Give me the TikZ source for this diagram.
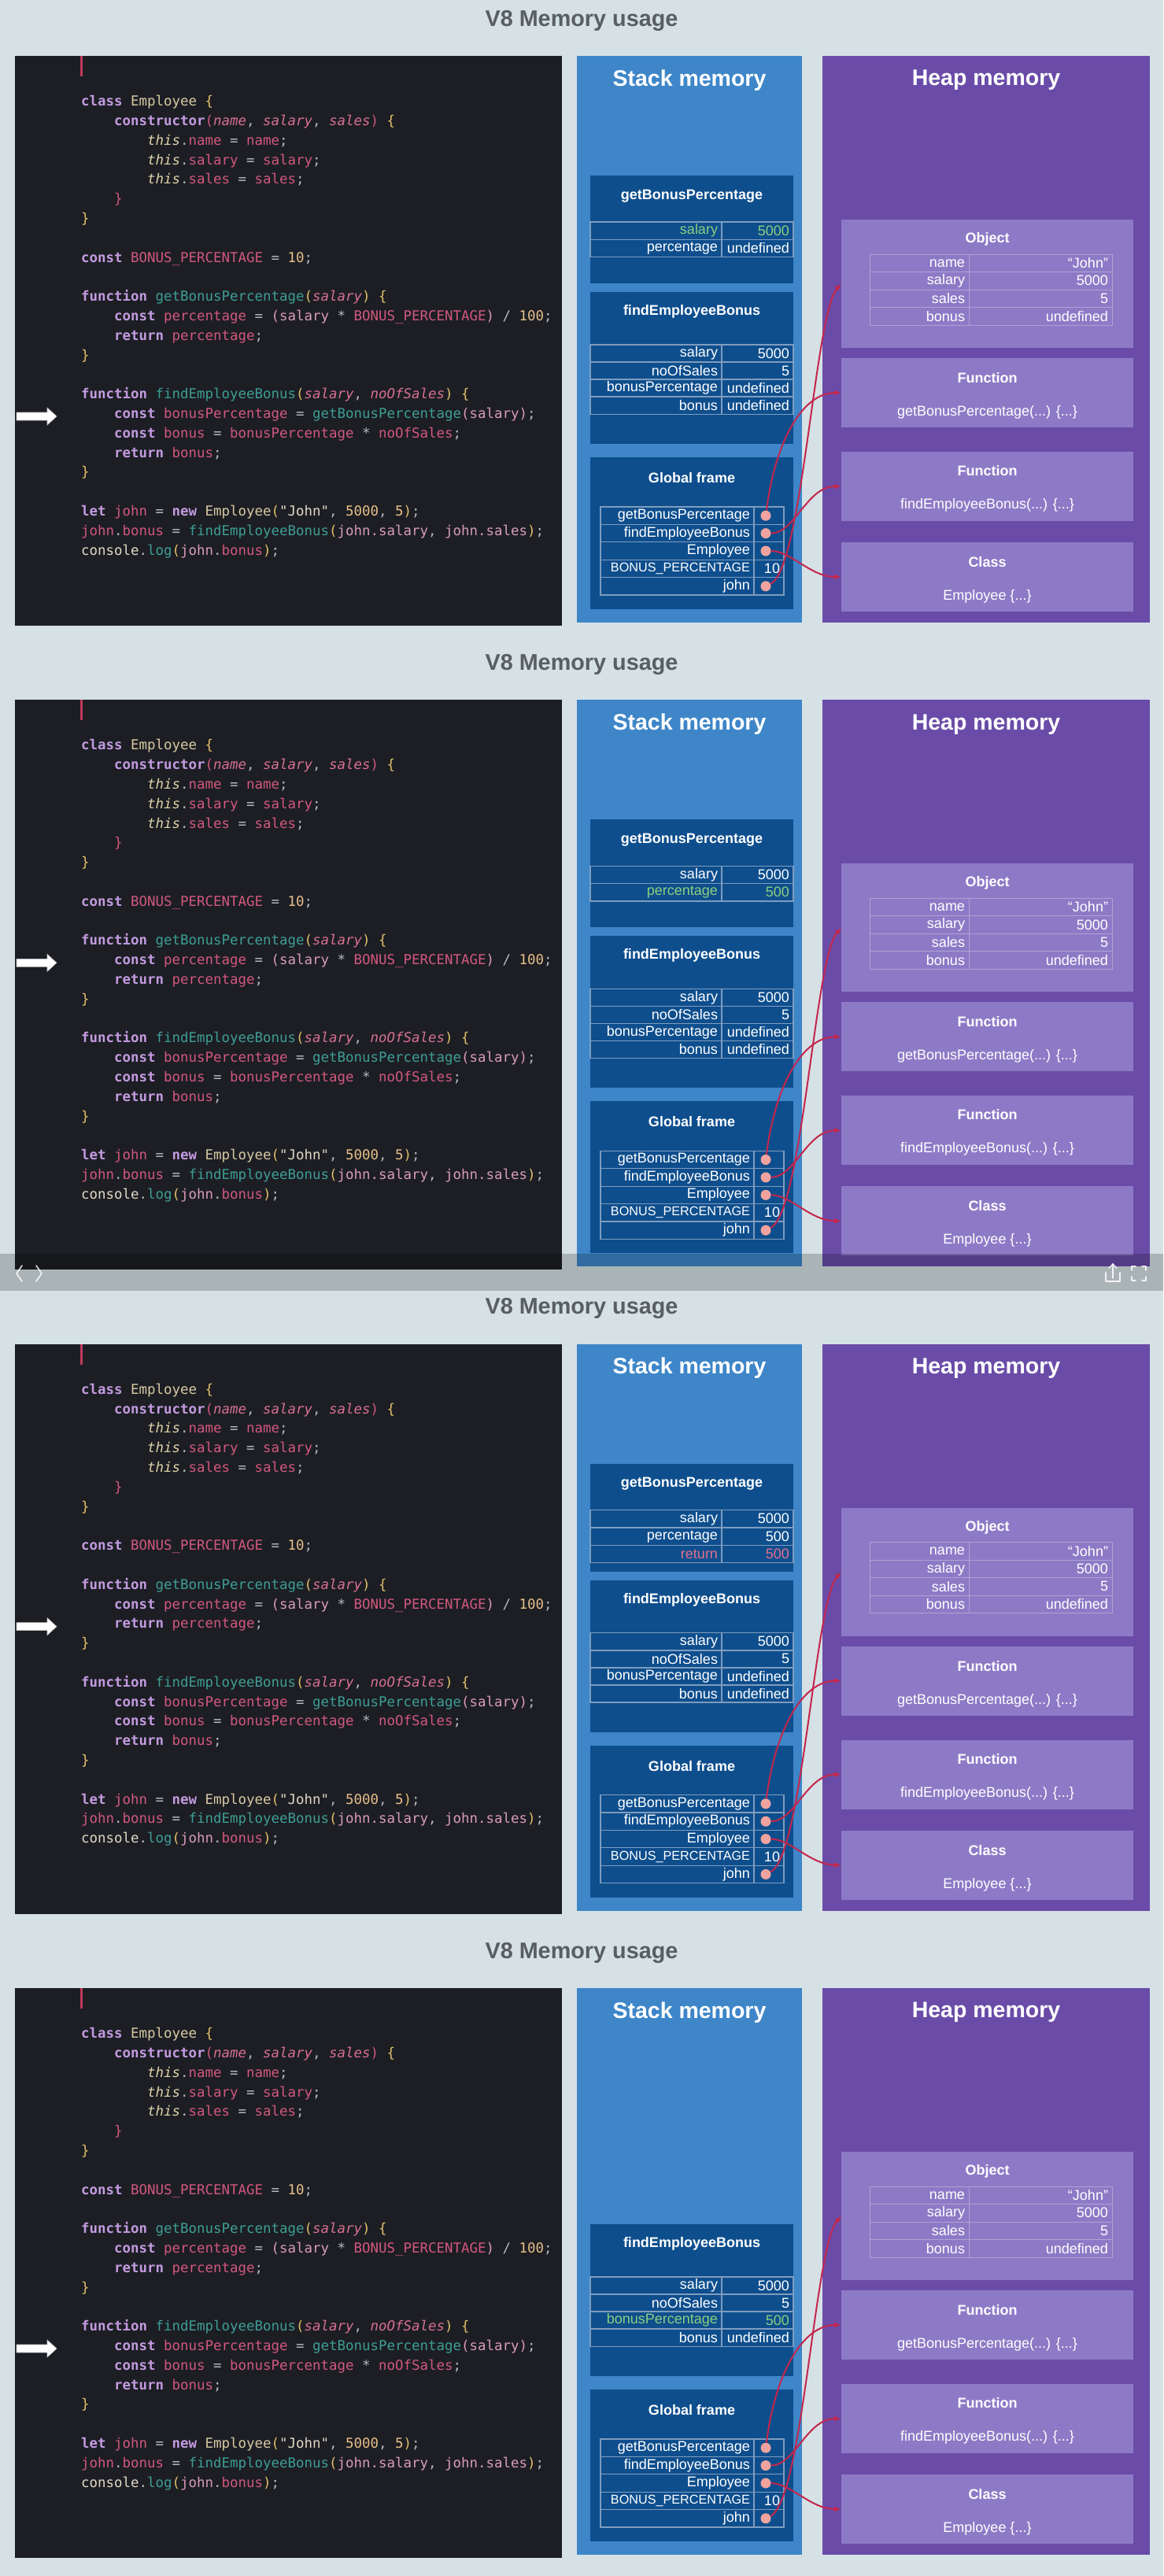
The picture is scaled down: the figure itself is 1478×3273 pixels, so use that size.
\documentclass[tikz,border=0pt]{standalone}
\usepackage{fontspec}
\setmainfont{Liberation Sans}
\newfontfamily\codefont{DejaVu Sans Mono}
\usetikzlibrary{arrows.meta}
\definecolor{pagebg}{HTML}{D5E1E5}
\definecolor{codebg}{HTML}{1C1E24}
\definecolor{stackc}{HTML}{3E86C8}
\definecolor{sframec}{HTML}{0E4E8D}
\definecolor{slinec}{HTML}{7F9DBF}
\definecolor{heapc}{HTML}{6A4CA8}
\definecolor{hboxc}{HTML}{8D7AC6}
\definecolor{hlinec}{HTML}{ADA2D6}
\definecolor{connc}{HTML}{C4264C}
\definecolor{dotc}{HTML}{F0A39E}
\definecolor{ptitlec}{HTML}{585E63}
\definecolor{hlgreen}{HTML}{8CCF7E}
\definecolor{hlpink}{HTML}{E5708F}
\definecolor{cursorc}{HTML}{C03A5E}
\definecolor{ckw}{HTML}{C39BE0}
\definecolor{ccls}{HTML}{D9C9A3}
\definecolor{cbrc}{HTML}{E3C06A}
\definecolor{cprm}{HTML}{D9708F}
\definecolor{cths}{HTML}{E0D3A8}
\definecolor{cvar}{HTML}{D2587C}
\definecolor{clvar}{HTML}{D99CB8}
\definecolor{cnum}{HTML}{E9C08A}
\definecolor{cfn}{HTML}{3E9E95}
\definecolor{cstr}{HTML}{E3D8C5}
\definecolor{cpun}{HTML}{B8B8C0}

\newcommand\ccK[1]{\textcolor{ckw}{\bfseries #1}}
\newcommand\ccC[1]{\textcolor{ccls}{#1}}
\newcommand\ccB[1]{\textcolor{cbrc}{#1}}
\newcommand\ccP[1]{\textcolor{cprm}{\itshape #1}}
\newcommand\ccT[1]{\textcolor{cths}{\itshape #1}}
\newcommand\ccV[1]{\textcolor{cvar}{#1}}
\newcommand\ccL[1]{\textcolor{clvar}{#1}}
\newcommand\ccN[1]{\textcolor{cnum}{#1}}
\newcommand\ccF[1]{\textcolor{cfn}{#1}}
\newcommand\ccS[1]{\textcolor{cstr}{#1}}
\newcommand\ccW[1]{\textcolor{cpun}{#1}}

\tikzset{
  code/.style={anchor=mid west, inner sep=0pt, font=\codefont\fontsize{17.44pt}{20pt}\selectfont, text=cpun},
  ptitle/.style={inner sep=0pt, font=\fontsize{28.8pt}{32pt}\selectfont\bfseries, text=ptitlec},
  memtitle/.style={inner sep=0pt, font=\fontsize{28.5pt}{32pt}\selectfont\bfseries, text=white},
  ftitle/.style={inner sep=0pt, font=\fontsize{18pt}{21pt}\selectfont\bfseries, text=white},
  htext/.style={inner sep=0pt, font=\fontsize{18pt}{21pt}\selectfont, text=white},
  boxbase/.style={anchor=north west, inner sep=0pt, outer sep=0pt, draw=none},
  codebox/.style={boxbase, fill=codebg},
  stackbox/.style={boxbase, fill=stackc},
  heapbox/.style={boxbase, fill=heapc},
  sframe/.style={boxbase, fill=sframec},
  hbox/.style={boxbase, fill=hboxc},
  cellbase/.style={anchor=north west, inner xsep=5pt, inner ysep=0pt, outer sep=0pt, align=right,
     font=\fontsize{18pt}{20pt}\selectfont, text=white},
  slab/.style={cellbase, draw=slinec, line width=1.2pt, minimum height=22.3pt, text width=157pt},
  sval/.style={cellbase, draw=slinec, line width=1.2pt, minimum height=22.3pt, text width=81pt},
  glab/.style={cellbase, draw=slinec, line width=1.2pt, minimum height=22.4pt, text width=185pt},
  gval/.style={cellbase, draw=slinec, line width=1.2pt, minimum height=22.4pt, text width=28pt},
  hlab/.style={cellbase, draw=hlinec, line width=0.9pt, minimum height=22.5pt, text width=116pt},
  hval/.style={cellbase, draw=hlinec, line width=0.9pt, minimum height=22.5pt, text width=172pt},
  dotn/.style={circle, fill=dotc, minimum size=13pt, inner sep=0pt},
  conn/.style={draw=connc, line width=2pt, -{Latex[length=9pt,width=7pt]}},
}

\newcommand\cdln[4]{\node[code] (#1) at ({103+42*#2},{132+24.8*#3}) {#4};}
\newcommand\codelines[1]{%
\cdln{#1c0}{0}{0}{\ccK{class} \ccC{Employee} \ccB{\{}}
\cdln{#1c1}{1}{1}{\ccK{constructor}\ccV{(}\ccP{name}\ccW{,} \ccP{salary}\ccW{,} \ccP{sales}\ccV{)} \ccB{\{}}
\cdln{#1c2}{2}{2}{\ccT{this}\ccW{.}\ccV{name} \ccW{=} \ccV{name}\ccW{;}}
\cdln{#1c3}{2}{3}{\ccT{this}\ccW{.}\ccV{salary} \ccW{=} \ccV{salary}\ccW{;}}
\cdln{#1c4}{2}{4}{\ccT{this}\ccW{.}\ccV{sales} \ccW{=} \ccV{sales}\ccW{;}}
\cdln{#1c5}{1}{5}{\ccV{\}}}
\cdln{#1c6}{0}{6}{\ccB{\}}}
\cdln{#1c8}{0}{8}{\ccK{const} \ccV{BONUS\_PERCENTAGE} \ccW{=} \ccN{10}\ccW{;}}
\cdln{#1c10}{0}{10}{\ccK{function} \ccF{getBonusPercentage}\ccB{(}\ccP{salary}\ccB{)} \ccB{\{}}
\cdln{#1c11}{1}{11}{\ccK{const} \ccV{percentage} \ccW{=} \ccL{(salary} \ccW{*} \ccV{BONUS\_PERCENTAGE}\ccL{)} \ccW{/} \ccN{100}\ccW{;}}
\cdln{#1c12}{1}{12}{\ccK{return} \ccV{percentage}\ccW{;}}
\cdln{#1c13}{0}{13}{\ccB{\}}}
\cdln{#1c15}{0}{15}{\ccK{function} \ccF{findEmployeeBonus}\ccB{(}\ccP{salary}\ccW{,} \ccP{noOfSales}\ccB{)} \ccB{\{}}
\cdln{#1c16}{1}{16}{\ccK{const} \ccV{bonusPercentage} \ccW{=} \ccF{getBonusPercentage}\ccL{(salary)}\ccW{;}}
\cdln{#1c17}{1}{17}{\ccK{const} \ccV{bonus} \ccW{=} \ccV{bonusPercentage} \ccW{*} \ccV{noOfSales}\ccW{;}}
\cdln{#1c18}{1}{18}{\ccK{return} \ccV{bonus}\ccW{;}}
\cdln{#1c19}{0}{19}{\ccB{\}}}
\cdln{#1c21}{0}{21}{\ccK{let} \ccV{john} \ccW{=} \ccK{new} \ccC{Employee}\ccB{(}\ccS{"John"}\ccW{,} \ccN{5000}\ccW{,} \ccN{5}\ccB{)}\ccW{;}}
\cdln{#1c22}{0}{22}{\ccV{john}\ccW{.}\ccV{bonus} \ccW{=} \ccF{findEmployeeBonus}\ccB{(}\ccL{john.salary}\ccW{,} \ccL{john.sales}\ccB{)}\ccW{;}}
\cdln{#1c23}{0}{23}{\ccS{console}\ccW{.}\ccF{log}\ccB{(}\ccL{john}\ccW{.}\ccV{bonus}\ccB{)}\ccW{;}}
}

% stack frame table row: name, ytop, label, value, colour
\newcommand\srow[5]{%
 \node[slab, text=#5] (#1l) at (750,#2) {#3};
 \node[sval, text=#5] (#1v) at (917,#2) {#4};}
% global table row
\newcommand\grow[4]{%
 \node[glab] (#1l) at (763,#2) {#3};
 \node[gval] (#1v) at (958,#2) {#4};}
% heap table row
\newcommand\hrow[4]{%
 \node[hlab] (#1l) at (1105,#2) {#3};
 \node[hval] (#1v) at (1231,#2) {#4};}

\newcommand\panelbase[2]{% prefix, arrow y
 \node[ptitle] (#1title) at (739,26) {V8 Memory usage};
 \node[codebox, minimum width=695pt, minimum height=724pt] (#1code) at (19,71) {};
 \fill[cursorc] (102,71) rectangle (105,97);
 \fill[white, draw=black!25, line width=0.6pt] (21,#2-5) -- (60,#2-5) -- (60,#2-11) -- (72,#2)
    -- (60,#2+11) -- (60,#2+5) -- (21,#2+5) -- cycle;
 \codelines{#1}
 \node[stackbox, minimum width=286pt, minimum height=720pt] (#1stack) at (733,71) {};
 \node[memtitle] (#1stackT) at (876,102) {Stack memory};
 \node[heapbox, minimum width=416pt, minimum height=720pt] (#1heap) at (1045,71) {};
 \node[memtitle] (#1heapT) at (1253,102) {Heap memory};
 % heap objects
 \node[hbox, minimum width=371pt, minimum height=163pt] (#1obj) at (1069,279) {};
 \node[ftitle] (#1objT) at (1254.5,304) {Object};
 \hrow{#1or1}{323}{name}{“John”}
 \hrow{#1or2}{345.5}{salary}{5000}
 \hrow{#1or3}{368}{sales}{5}
 \hrow{#1or4}{390.5}{bonus}{undefined}
 \node[hbox, minimum width=371pt, minimum height=88pt] (#1fn1) at (1069,455) {};
 \node[ftitle] (#1fn1T) at (1254.5,480) {Function};
 \node[htext] (#1fn1X) at (1254.5,524) {getBonusPercentage(...) \{...\}};
 \node[hbox, minimum width=371pt, minimum height=88pt] (#1fn2) at (1069,574) {};
 \node[ftitle] (#1fn2T) at (1254.5,598) {Function};
 \node[htext] (#1fn2X) at (1254.5,642) {findEmployeeBonus(...) \{...\}};
 \node[hbox, minimum width=371pt, minimum height=88pt] (#1cls) at (1069,689) {};
 \node[ftitle] (#1clsT) at (1254.5,714) {Class};
 \node[htext] (#1clsX) at (1254.5,758) {Employee \{...\}};
 % global frame
 \node[sframe, minimum width=258pt, minimum height=193pt] (#1glob) at (750,581) {};
 \node[ftitle] (#1globT) at (879,607) {Global frame};
 \grow{#1g1}{644}{getBonusPercentage}{}
 \grow{#1g2}{666.4}{findEmployeeBonus}{}
 \grow{#1g3}{688.8}{Employee}{}
 \node[glab, font=\fontsize{16.2pt}{18pt}\selectfont] (#1g4l) at (763,711.2) {BONUS\_PERCENTAGE};
 \node[gval] (#1g4v) at (958,711.2) {10};
 \grow{#1g5}{733.6}{john}{}
 \node[dotn] (#1dg) at (973,655.2) {};
 \node[dotn] (#1df) at (973,677.6) {};
 \node[dotn] (#1de) at (973,700) {};
 \node[dotn] (#1dj) at (973,744.8) {};
}

\newcommand\gbpframe[1]{%
 \node[sframe, minimum width=258pt, minimum height=137pt] (#1gbp) at (750,223) {};
 \node[ftitle] (#1gbpT) at (879,249) {getBonusPercentage};}

\newcommand\febframe[4]{%
 \node[sframe, minimum width=258pt, minimum height=193pt] (#1feb) at (750,371) {};
 \node[ftitle] (#1febT) at (879,396) {findEmployeeBonus};
 \srow{#1fr1}{438}{salary}{5000}{white}
 \srow{#1fr2}{460}{noOfSales}{5}{white}
 \srow{#1fr3}{482}{#2}{#3}{#4}
 \srow{#1fr4}{504}{bonus}{undefined}{white}}

\newcommand\conns[1]{%
 \draw[conn] (#1dg) .. controls +(12,-95) and +(-49,0) .. (#1fn1.west);
 \draw[conn] (#1df) .. controls +(37,0) and +(-44,0) .. (#1fn2.west);
 \draw[conn] (#1de) .. controls +(32,0) and +(-39,0) .. (#1cls.west);
 \draw[conn] (#1dj) .. controls +(47,-23) and +(-34,38) .. (#1obj.west);}

\begin{document}
\begin{tikzpicture}[x=1pt, y=-1pt]
\useasboundingbox (0,0) rectangle (1478,3273);
\fill[pagebg] (0,0) rectangle (1478,3273);

% ---------- panel 1
\begin{scope}
 \panelbase{pa}{529}
 \gbpframe{pa}
 \srow{pag1}{282}{salary}{5000}{hlgreen}
 \srow{pag2}{304.3}{percentage}{undefined}{white}
 \febframe{pa}{bonusPercentage}{undefined}{white}
 \conns{pa}
\end{scope}

% ---------- panel 2
\begin{scope}[shift={(0,818.3)}]
 \panelbase{pb}{405}
 \gbpframe{pb}
 \srow{pbg1}{282}{salary}{5000}{white}
 \srow{pbg2}{304.3}{percentage}{500}{hlgreen}
 \febframe{pb}{bonusPercentage}{undefined}{white}
 \conns{pb}
\end{scope}
% viewer toolbar over panel 2
\fill[black, opacity=0.2] (0,1593) rectangle (1478,1640);
\begin{scope}[draw=white, line width=1.6pt, opacity=0.85, line cap=round, line join=round]
 \draw (28,1608) -- (21,1618) -- (28,1628);
 \draw (46,1608) -- (53,1618) -- (46,1628);
 \draw (1405,1617) -- (1405,1628) -- (1423,1628) -- (1423,1617);
 \draw (1414,1624) -- (1414,1606);
 \draw (1409.5,1611) -- (1414,1606) -- (1418.5,1611);
 \draw (1438,1614) -- (1438,1609) -- (1443,1609);
 \draw (1451,1609) -- (1456,1609) -- (1456,1614);
 \draw (1438,1622) -- (1438,1627) -- (1443,1627);
 \draw (1451,1627) -- (1456,1627) -- (1456,1622);
\end{scope}

% ---------- panel 3
\begin{scope}[shift={(0,1636.6)}]
 \panelbase{pc}{430}
 \gbpframe{pc}
 \srow{pcg1}{282}{salary}{5000}{white}
 \srow{pcg2}{304.3}{percentage}{500}{white}
 \srow{pcg3}{326.6}{return}{500}{hlpink}
 \febframe{pc}{bonusPercentage}{undefined}{white}
 \conns{pc}
\end{scope}

% ---------- panel 4
\begin{scope}[shift={(0,2455)}]
 \panelbase{pd}{529}
 \febframe{pd}{bonusPercentage}{500}{hlgreen}
 \conns{pd}
\end{scope}
\end{tikzpicture}
\end{document}
